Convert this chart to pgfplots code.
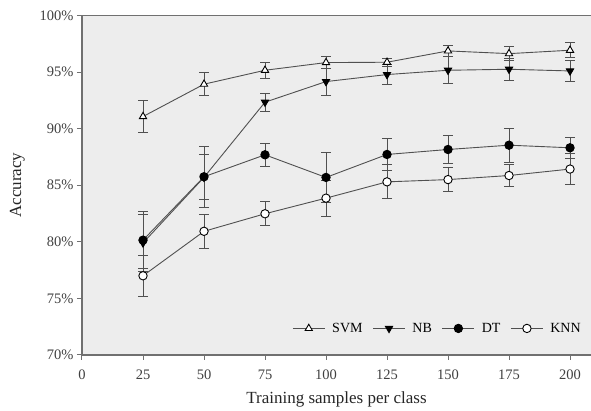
\documentclass[border=0pt]{standalone}
\usepackage{fontspec}
\setmainfont{Liberation Serif}
\usepackage{pgfplots}
\pgfplotsset{compat=1.18}
\definecolor{bg}{HTML}{EDEDED}
\definecolor{ax}{HTML}{707070}
\definecolor{ln}{HTML}{505050}
\definecolor{tk}{HTML}{404040}
\begin{document}
\begin{tikzpicture}
\begin{axis}[
  scale only axis, width=509pt, height=339.5pt,
  xmin=0, xmax=208.6, ymin=70, ymax=100,
  xtick={0,25,...,200}, ytick={70,75,...,100},
  yticklabel={\pgfmathprintnumber{\tick}\%},
  /pgf/number format/assume math mode=true,
  axis x line*=bottom, axis y line*=left,
  axis line style={ax, line width=1.2pt, -},
  tick style={ax, line width=1pt},
  tick align=outside, major tick length=5pt,
  ticklabel style={font=\fontsize{14.5}{16}\selectfont, text=tk},
  xticklabel style={yshift=-6pt},
  axis background/.style={fill=bg},
  xlabel={Training samples per class},
  ylabel={Accuracy},
  label style={font=\fontsize{17}{19}\selectfont, text=black!85},
  xlabel style={yshift=-5.5pt},
  ylabel style={yshift=8pt},
  legend style={draw=none, fill=none, at={(0.99,0.05)}, anchor=south east,
    legend columns=-1, font=\fontsize{14}{16}\selectfont,
    /tikz/every odd column/.append style={column sep=5pt},
    /tikz/every even column/.append style={column sep=8pt}},
  legend image code/.code={\draw[mark repeat=2, mark phase=2, #1] plot coordinates {(0pt,0pt) (16pt,0pt) (32pt,0pt)};},
  error bars/error bar style={ln, line width=0.9pt},
  error bars/error mark options={rotate=90, mark size=5pt, ln, line width=0.9pt},
]
\coordinate (ll) at (rel axis cs:0,0);
\coordinate (ur) at (rel axis cs:1,1);
\draw[ax, line width=1.2pt] (rel axis cs:0,1) -- (rel axis cs:1,1);
% SVM
\addplot[ln, line width=0.9pt, mark size=4.2pt, mark=triangle*, mark options={fill=white, draw=black, solid}, error bars/.cd, y dir=both, y explicit]
 coordinates {(25,91.07) +- (0,1.4) (50,93.93) +- (0,1.0) (75,95.16) +- (0,0.7) (100,95.84) +- (0,0.5)
 (125,95.87) +- (0,0.35) (150,96.87) +- (0,0.5) (175,96.63) +- (0,0.6) (200,96.93) +- (0,0.65)};
\addlegendentry{SVM}
% NB
\addplot[ln, line width=0.9pt, mark size=4.2pt, mark=triangle*, mark options={rotate=180, fill=black, draw=black, solid}, error bars/.cd, y dir=both, y explicit]
 coordinates {(25,79.9) +- (0,2.5) (50,85.7) +- (0,2.7) (75,92.34) +- (0,0.8) (100,94.16) +- (0,1.2)
 (125,94.78) +- (0,0.85) (150,95.16) +- (0,1.2) (175,95.25) +- (0,0.95) (200,95.1) +- (0,0.95)};
\addlegendentry{NB}
% DT
\addplot[ln, line width=0.9pt, mark size=4.2pt, mark=*, mark options={fill=black, draw=black, solid}, error bars/.cd, y dir=both, y explicit]
 coordinates {(25,80.15) +- (0,2.5) (50,85.75) +- (0,2.0) (75,87.69) +- (0,1.0) (100,85.69) +- (0,2.2)
 (125,87.72) +- (0,1.4) (150,88.16) +- (0,1.2) (175,88.54) +- (0,1.5) (200,88.31) +- (0,0.95)};
\addlegendentry{DT}
% KNN
\addplot[ln, line width=0.9pt, mark size=4.2pt, mark=*, mark options={fill=white, draw=black, solid}, error bars/.cd, y dir=both, y explicit]
 coordinates {(25,77.0) +- (0,1.8) (50,80.93) +- (0,1.5) (75,82.48) +- (0,1.05) (100,83.86) +- (0,1.6)
 (125,85.3) +- (0,1.5) (150,85.5) +- (0,1.05) (175,85.86) +- (0,1.0) (200,86.43) +- (0,1.4)};
\addlegendentry{KNN}
\end{axis}
\pgfresetboundingbox
\path (ll) ++(-82pt,-56pt) rectangle ([yshift=15.5pt]ur);
\end{tikzpicture}
\end{document}
